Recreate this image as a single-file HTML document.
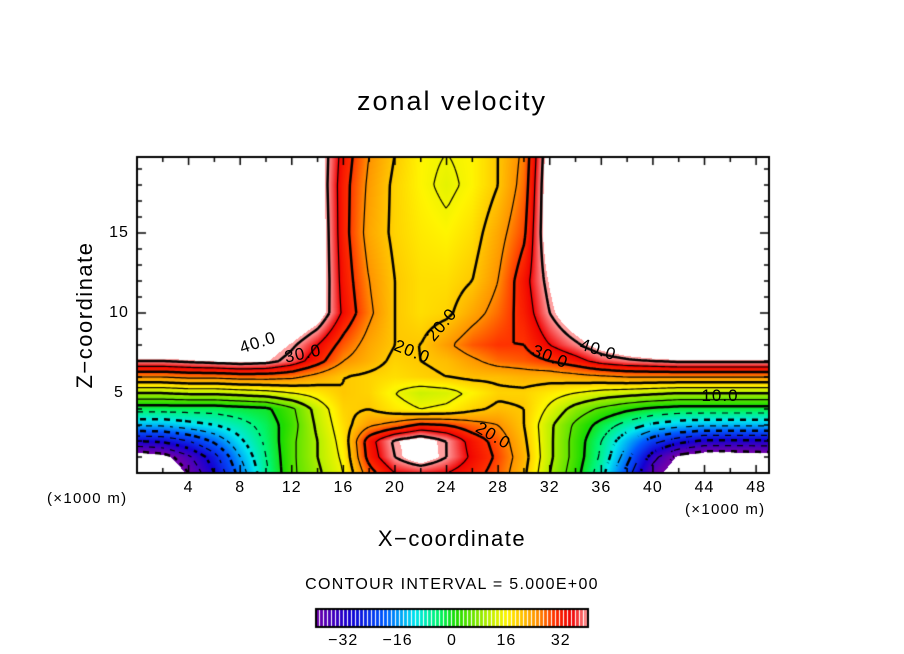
<!DOCTYPE html>
<html><head><meta charset="utf-8">
<style>
body{margin:0;background:#fff;width:904px;height:654px;overflow:hidden;position:relative;font-family:"Liberation Sans",sans-serif;}
.t{position:absolute;color:#000;white-space:nowrap;}
canvas{position:absolute;left:0;top:0;}
</style></head><body>
<canvas id="c" width="904" height="654"></canvas>
<div class="t" style="left:0;width:904px;text-align:center;top:86px;font-size:27px;letter-spacing:2px;">zonal velocity</div>
<div class="t" style="left:0;width:904px;text-align:center;top:526px;font-size:22px;letter-spacing:1.5px;">X−coordinate</div>
<div class="t" style="left:85px;top:315px;font-size:22px;letter-spacing:1.5px;transform:translate(-50%,-50%) rotate(-90deg);">Z−coordinate</div>
<div class="t" style="left:47px;top:490px;font-size:15px;letter-spacing:1.3px;">(×1000 m)</div>
<div class="t" style="left:685px;top:501px;font-size:15px;letter-spacing:1.3px;">(×1000 m)</div>
<div class="t" style="left:0;width:904px;text-align:center;top:576px;font-size:16px;letter-spacing:1.3px;">CONTOUR INTERVAL = 5.000E+00</div>
<div id="labels"></div>
<script>
const xs=[0,2,4,6,8,10,12,14,16,18,20,22,24,26,28,30,32,34,36,38,40,42,44,46,49];
const zs=[0,1,2,3,4,5,6,7,8,10,12,15,18,20];
const row_z0=[-50,-48,-40,-30,-18,-6,4,9,15,28,35,36,35,32,28,21,10,2,-8,-22,-38,-46,-50,-50,-48];
const row_z1=[-45,-43,-36,-27,-15,-5,4,10,16,32,40,45,40,34,29,22,11,3,-6,-18,-33,-42,-45,-45,-44];
const row_z2=[-30,-29,-25,-19,-11,-4,4,10,17,33,41,44,40,33,28,21,11,3,-5,-14,-23,-28,-31,-31,-31];
const row_z3=[-14,-14,-12,-10,-7,-3,3,11,18,24,27,31,30,27,25,20,11,4,-2,-7,-11,-13,-14,-14,-14];
const row_z4=[-3,-3,-3,-3,-2,-1,4,12,19,20,17,15,16,19,21,20,14,8,4,1,-1,-2,-2,-2,-2];
const row_z5=[10,10,11,11,12,13,15,17,20,19,15,12,13,16,19,19,17,15,13,12,11,10,10,10,10];
const row_z6=[25,25,26,26,27,27,26,23,20,19,18,19,20,21,21,22,22,23,24,25,25,25,25,25,25];
const row_z7=[40,40,41,42,43,42,38,32,25,22,19,20,21,24,27,28,30,33,37,39,40,41,41,41,41];
const row_z8=[50,50,50,49,47,45,41,35,28,23,20,20,24,28,30,30,35,39,44,47,50,50,50,50,50];
const row_z10=[50,50,50,50,50,50,50,45,34,26,20,18,19,23,27,32,40,47,50,50,50,50,50,50,50];
const row_z12=[50,50,50,50,50,50,50,46,33,25,20,18,18,20,25,33,42,50,50,50,50,50,50,50,50];
const row_z15=[50,50,50,50,50,50,50,46,32,23,19,17,16,18,23,29,46,50,50,50,50,50,50,50,50];
const row_z18=[50,50,50,50,50,50,50,45,32,24,19,16,14,16,20,27,46,50,50,50,50,50,50,50,50];
const row_z20=[50,50,50,50,50,50,50,45,33,25,20,16,15,16,20,26,45,50,50,50,50,50,50,50,50];
const grid=[row_z0,row_z1,row_z2,row_z3,row_z4,row_z5,row_z6,row_z7,row_z8,row_z10,row_z12,row_z15,row_z18,row_z20];
const xTicks=[4,8,12,16,20,24,28,32,36,40,44,48];
const zTicks=[5,10,15];
const cbTicks=[-32,-16,0,16,32];

const PL=137,PT=157,PR=769,PB=473;
const X=x=>PL+x*(PR-PL)/49;
const Z=z=>PB-z*16;
const invX=p=>(p-PL)*49/(PR-PL);
const invZ=p=>(PB-p)/16;
function idx(arr,v){let i=0;while(i<arr.length-2&&v>arr[i+1])i++;return i;}
function field(x,z){
  x=Math.max(0,Math.min(49,x));z=Math.max(0,Math.min(20,z));
  const i=idx(xs,x),j=idx(zs,z);
  const tx=(x-xs[i])/(xs[i+1]-xs[i]),tz=(z-zs[j])/(zs[j+1]-zs[j]);
  const a=grid[j][i],b=grid[j][i+1],c=grid[j+1][i],d=grid[j+1][i+1];
  return (a*(1-tx)+b*tx)*(1-tz)+(c*(1-tx)+d*tx)*tz;
}
const stops=[[-40,[110,0,170]],[-30,[20,0,210]],[-20,[0,90,255]],[-11,[0,230,240]],[-4,[0,245,110]],[1,[30,220,0]],[6,[110,230,0]],[11,[190,240,0]],[16,[255,245,0]],[20,[255,200,0]],[25,[255,145,0]],[30,[255,50,0]],[35,[240,0,0]],[40,[255,160,160]]];
function cmap(v){
  if(v>41.5||v<-41)return [255,255,255];
  if(v<=-40)return stops[0][1];if(v>=40)return stops[stops.length-1][1];
  for(let k=0;k<stops.length-1;k++){const [a,ca]=stops[k],[b,cb]=stops[k+1];
    if(v<=b){const t=(v-a)/(b-a);return ca.map((c,n)=>Math.round(c+(cb[n]-c)*t));}}
}
const cv=document.getElementById('c'),ctx=cv.getContext('2d');
const W=PR-PL,H=PB-PT,img=ctx.createImageData(W,H);
for(let py=0;py<H;py++)for(let px=0;px<W;px++){
  const v=field(invX(PL+px+0.5),invZ(PT+py+0.5)),c=cmap(v),o=(py*W+px)*4;
  img.data[o]=c[0];img.data[o+1]=c[1];img.data[o+2]=c[2];img.data[o+3]=255;}
ctx.putImageData(img,PL,PT);
const S=3,nx=Math.ceil(W/S)+1,ny=Math.ceil(H/S)+1,vals=[];
for(let j=0;j<ny;j++){vals[j]=[];for(let i=0;i<nx;i++)vals[j][i]=field(invX(PL+i*S),invZ(PT+j*S));}
ctx.save();ctx.beginPath();ctx.rect(PL,PT,W,H);ctx.clip();
for(let L=-40;L<=40;L+=5){
  ctx.beginPath();ctx.lineWidth=(L%10===0)?2.5:1.2;ctx.strokeStyle='#000';
  for(let j=0;j<ny-1;j++)for(let i=0;i<nx-1;i++){
    const p=[[i,j,vals[j][i]],[i+1,j,vals[j][i+1]],[i+1,j+1,vals[j+1][i+1]],[i,j+1,vals[j+1][i]]];
    const pts=[];
    for(let e=0;e<4;e++){const A=p[e],B=p[(e+1)%4];
      if((A[2]<L)!==(B[2]<L)){const t=(L-A[2])/(B[2]-A[2]);pts.push([PL+(A[0]+(B[0]-A[0])*t)*S,PT+(A[1]+(B[1]-A[1])*t)*S]);}}
    if(L<0&&((i+j)>>1)%2===1)continue;
    for(let k=0;k+1<pts.length;k+=2){ctx.moveTo(pts[k][0],pts[k][1]);ctx.lineTo(pts[k+1][0],pts[k+1][1]);}
  }
  ctx.stroke();
}
ctx.restore();
ctx.lineWidth=2;ctx.strokeStyle='#000';ctx.strokeRect(PL,PT,W,H);
ctx.lineWidth=1.5;ctx.beginPath();
for(let x=2;x<=48;x+=2){const len=x%4===0?8:5;ctx.moveTo(X(x),PB);ctx.lineTo(X(x),PB-len);ctx.moveTo(X(x),PT);ctx.lineTo(X(x),PT+len);}
for(let z=1;z<=19;z++){const len=z%5===0?9:5;ctx.moveTo(PL,Z(z));ctx.lineTo(PL+len,Z(z));ctx.moveTo(PR,Z(z));ctx.lineTo(PR-len,Z(z));}
ctx.stroke();
const CL=316,CR=588,CT=609,CB=627,cbX=v=>CL+(v+40)*(CR-CL)/80;
for(let px=CL;px<CR;px++){const v=-40+(px-CL)*80/(CR-CL);const c=cmap(Math.min(39.9,v));
  ctx.fillStyle=((px-CL)%4===3)?'rgb(255,255,255)':`rgb(${c[0]},${c[1]},${c[2]})`;ctx.fillRect(px,CT,1,CB-CT);}
ctx.lineWidth=2;ctx.strokeRect(CL,CT,CR-CL,CB-CT);
const lab=document.getElementById('labels');
function addText(txt,x,y,size,name,rot){const d=document.createElement('div');d.className='t';d.textContent=txt;
  d.style.left=x+'px';d.style.top=y+'px';d.style.fontSize=size+'px';d.style.letterSpacing='1px';d.style.transform='translate(-50%,-50%)'+(rot?` rotate(${rot}deg)`:'');
  
  
  lab.appendChild(d);}
xTicks.forEach(t=>addText(String(t),X(t),488,16,'x-tick-label'));
zTicks.forEach(t=>addText(String(t),119,Z(t),16,'y-tick-label'));
cbTicks.forEach(t=>addText(t<0?'−'+(-t):String(t),cbX(t),641,16,'colorbar-tick-label'));
addText('40.0',258,343,17,'contour-label',-18);
addText('30.0',303,354,17,'contour-label',-12);
addText('20.0',412,352,17,'contour-label',22);
addText('20.0',442,325,17,'contour-label',-50);
addText('30.0',550,357,17,'contour-label',22);
addText('40.0',598,350,17,'contour-label',18);
addText('10.0',720,396,17,'contour-label',0);
addText('20.0',493,436,17,'contour-label',30);
</script>
</body></html>
